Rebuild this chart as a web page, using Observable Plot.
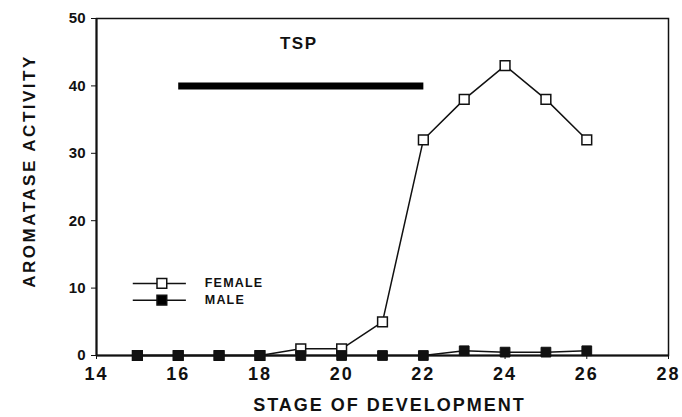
<!DOCTYPE html>
<html><head><meta charset="utf-8">
<script src="https://cdn.jsdelivr.net/npm/d3@7"></script>
<script src="https://cdn.jsdelivr.net/npm/@observablehq/plot@0.6"></script>
<style>
body{margin:0;background:#fff;}
svg{font-family:"Liberation Sans",Arial,sans-serif;}
</style>
</head><body><div id="chart"></div>
<script>
const stages = [15,16,17,18,19,20,21,22,23,24,25,26];
const female = [0,0,0,0,1,1,5,32,38,43,38,32];
const male   = [0,0,0,0,0,0,0,0,0.7,0.5,0.5,0.7];
const xTicks = [14,16,18,20,22,24,26,28];
const yTicks = [0,10,20,30,40,50];
const xTitle = "STAGE OF DEVELOPMENT";
const yTitle = "AROMATASE ACTIVITY";
const tsp = {label:"TSP", start:16, end:22, level:40};
const legendItems = [{name:"FEMALE", y:10.7, fill:"white"},{name:"MALE", y:8.2, fill:"black"}];

const fData = stages.map((s,i)=>({stage:s, v:female[i]}));
const mData = stages.map((s,i)=>({stage:s, v:male[i]}));

const chart = Plot.plot({
  width:682, height:417,
  marginLeft:96, marginRight:14, marginTop:18, marginBottom:62,
  x:{domain:[14,28], ticks:xTicks, tickSize:4, tickFormat:d=>String(d), label:null, tickPadding:8},
  y:{domain:[0,50], ticks:yTicks, tickSize:5, label:null, tickPadding:6},
  style:{fontSize:"15px", fontWeight:"bold", color:"#111"},
  marks:[
    Plot.frame({stroke:"#111", strokeWidth:1.5}),
    Plot.ruleY([0],{stroke:"#111", strokeWidth:2}),
    Plot.ruleX([14],{stroke:"#111", strokeWidth:2}),
    Plot.line([{x:tsp.start,y:tsp.level},{x:tsp.end,y:tsp.level}],{x:"x",y:"y",stroke:"black",strokeWidth:7,strokeLinecap:"butt"}),
    Plot.text([tsp],{x:d=>(d.start+d.end)/2-0.05, y:46.3, text:"label", fontSize:17, fontWeight:"bold"}),
    Plot.line(fData,{x:"stage",y:"v",stroke:"#111",strokeWidth:1.5}),
    Plot.dot(fData,{x:"stage",y:"v",symbol:"square",r:5.5,fill:"white",stroke:"#111",strokeWidth:1.5}),
    Plot.line(mData,{x:"stage",y:"v",stroke:"#111",strokeWidth:1.5}),
    Plot.dot(mData,{x:"stage",y:"v",symbol:"square",r:5.5,fill:"#111",stroke:"#111",strokeWidth:1}),
    Plot.ruleY(legendItems,{y:"y",x1:14.9,x2:16.2,stroke:"#111",strokeWidth:1.5}),
    Plot.dot(legendItems,{x:15.6,y:"y",symbol:"square",r:5.5,fill:"fill",stroke:"#111",strokeWidth:1.5}),
    Plot.text(legendItems,{x:16.65,y:"y",text:"name",textAnchor:"start",fontSize:12.5,fontWeight:"bold"}),
    Plot.text([xTitle],{frameAnchor:"bottom", text:d=>d, dx:7, dy:55, fontSize:18, fontWeight:"bold", lineAnchor:"bottom"}),
    Plot.text([yTitle],{frameAnchor:"left", textAnchor:"middle", text:d=>d, rotate:-90, dx:-67, dy:-16, fontSize:17, fontWeight:"bold"})
  ]
});
chart.querySelectorAll('text').forEach(t=>{
  const s = t.textContent;
  if (s===xTitle) t.setAttribute("letter-spacing","2");
  if (s===yTitle) t.setAttribute("letter-spacing","2.5");
  if (s==="FEMALE"||s==="MALE") t.setAttribute("letter-spacing","1.2");
  if (s==="TSP") t.setAttribute("letter-spacing","1.5");
});
const xg = chart.querySelector('[aria-label="x-axis tick label"]');
if (xg) xg.setAttribute("font-size","18");
chart.querySelectorAll('[aria-label="x-axis tick label"] text').forEach(t=>{t.setAttribute("letter-spacing","2");t.style.fontSize="18px";});
document.getElementById("chart").appendChild(chart);
</script></body></html>
